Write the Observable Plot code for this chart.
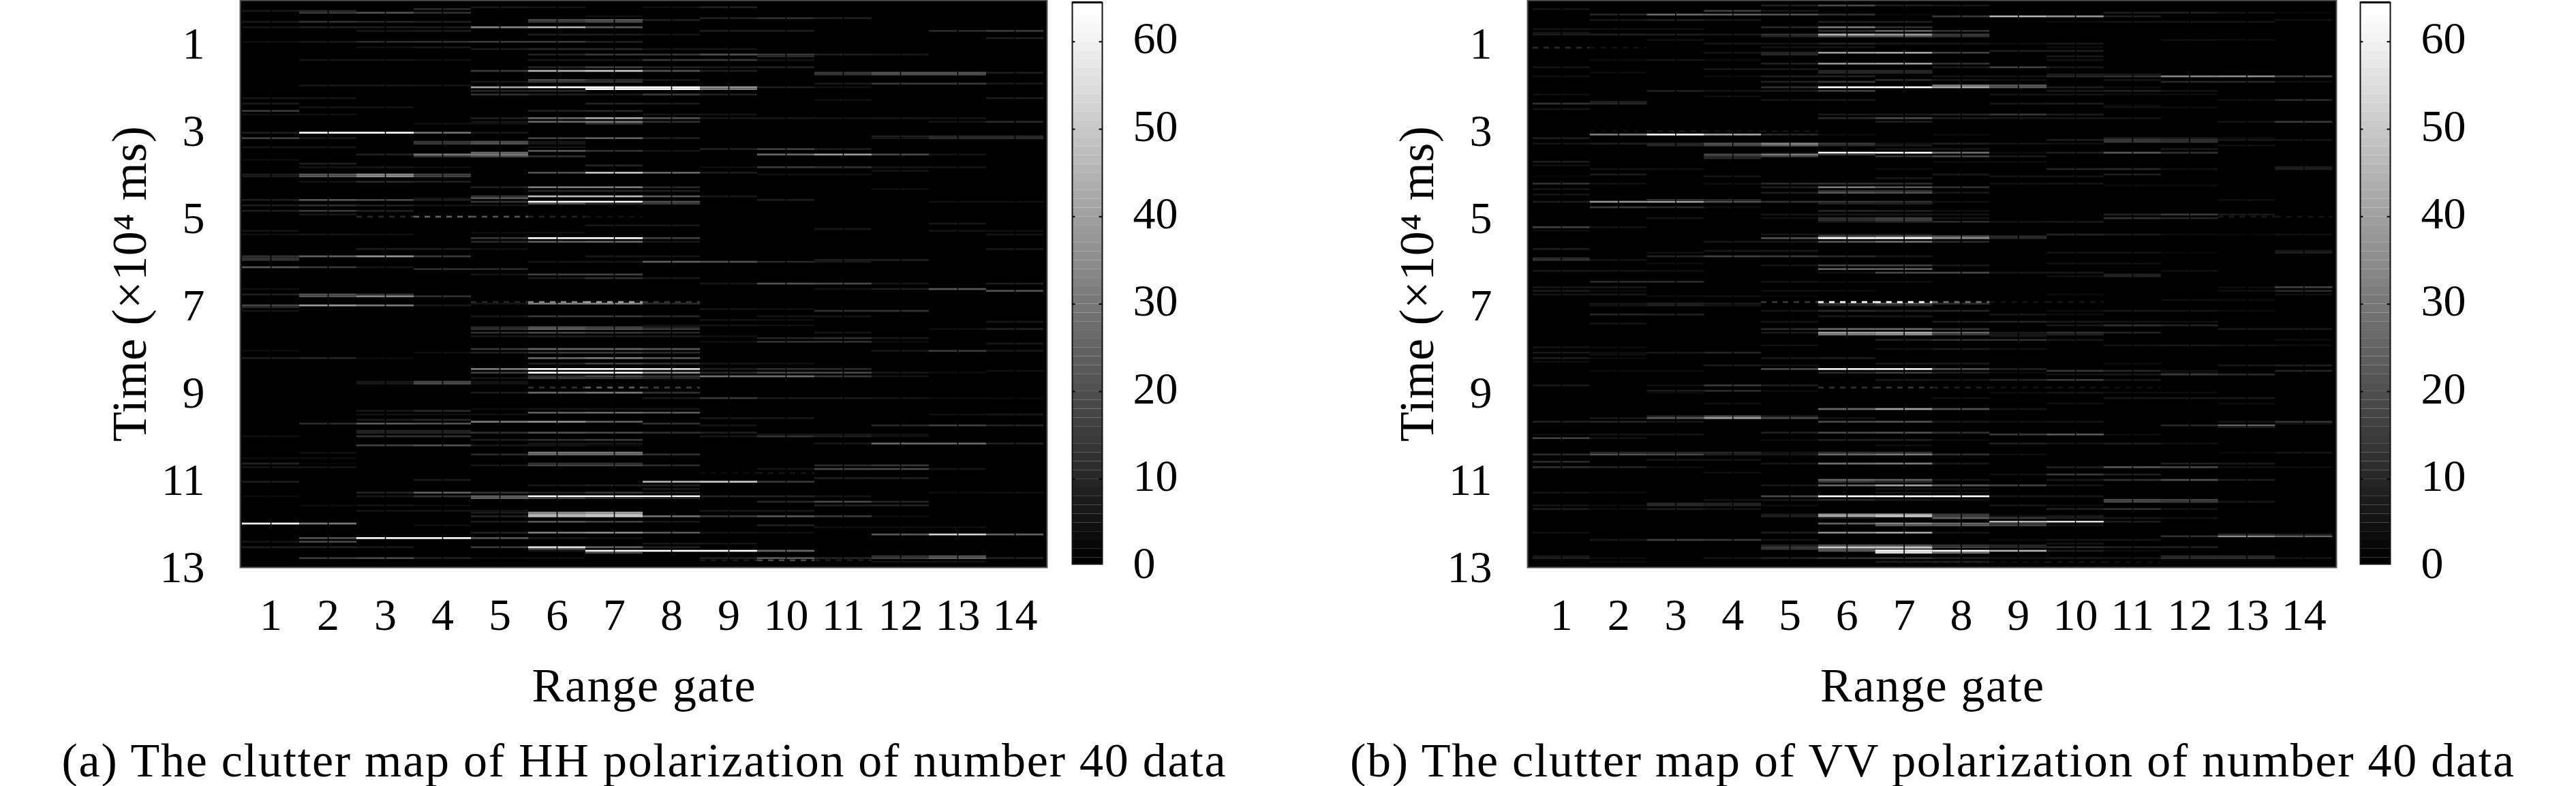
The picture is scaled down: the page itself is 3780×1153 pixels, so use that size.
<!DOCTYPE html>
<html><head><meta charset="utf-8">
<script src="https://cdn.jsdelivr.net/npm/d3@7"></script>
<script src="https://cdn.jsdelivr.net/npm/@observablehq/plot@0.6"></script>
<style>html,body{margin:0;padding:0;background:#fff;overflow:hidden}#page{position:relative;width:3780px;height:1153px}#page>*{position:absolute;top:0}</style>
</head><body><div id="page"></div>
<script>
const gates = d3.range(1, 15);
const timeTicks = [1, 3, 5, 7, 9, 11, 13];
const barTicks = [0, 10, 20, 30, 40, 50, 60];
const rowMs = 1 / 24; // one time row, in units of 10^4 ms
const captionA = "(a) The clutter map of HH polarization of number 40 data";
const captionB = "(b) The clutter map of VV polarization of number 40 data";
const axisX = "Range gate", axisT = "Time (×10⁴ ms)";
// each strip: [time row, first gate, amplitude in that gate, in the next gate, ...]
const hhStrips = [
[4,5,6,5],[4,8,4,8],[5,4,10],[6,1,6,10],[7,2,14,20,12],[9,7,4],[10,9,8,12,8],[12,1,6,12,10,8],[11,6,18,22,8],[12,6,14,18],[15,5,32,44,22],[15,1,5,8,7,7],[17,3,6,7],[17,9,7,7],[17,13,10,14],[19,6,7,7,5],[21,14,8],[23,1,4,6,10,12,14,14,8],[26,3,4,6],[27,5,7,10,10,5,5],[30,6,9,14,14,20,14,8,6],[31,10,10],[33,2,5,5,4],[33,6,6,6,14,14,5],[37,6,9,16,9,7,8],[39,5,14,44,50,20,8],[40,11,14,20,20,7],[41,11,12,18,18],[44,6,18,12,6],[45,5,6,14,12],[46,11,6,14,14,6],[47,2,6,6,5],[48,5,40,64,64,64,36,8,4],[49,7,64,64,30],[50,5,9,10],[52,5,12,8,6,14,8],[54,1,5,5],[55,11,4],[54,14,8],[57,1,6],[57,7,9,7],[59,2,5,5],[61,1,14],[61,6,8,9],[63,1,4,4],[63,8,5,5],[65,5,8,26,42,20,6,6,5,6,5],[67,5,5,26,30,12],[67,13,5,10],[68,4,4,4],[68,7,12],[73,1,7,64,64,28,6],[76,1,16,6],[76,6,16,24,8],[75,12,8,10,10],[76,12,6,12,12],[78,4,14,20,6],[79,4,14,20,6],[81,1,5,5],[81,6,5],[82,9,8,16,7],[83,6,22,12,5],[84,5,26],[85,3,8,30,30],[85,10,26,38,18,5],[86,4,14,20,12],[88,1,3],[90,2,8],[92,2,5,6,4],[91,7,9],[92,9,4,14,12,6,5],[94,12,5],[95,6,20,48,26,7],[96,1,7,22,34,16],[97,1,7,22,34,16],[96,10,4,4],[100,2,5,10,8],[103,5,8,30,30,10],[104,12,4],[105,6,10,10,8],[108,5,12,46,46,22,6],[109,4,4,22],[110,1,7,22,18,8],[110,10,7],[111,5,14,64,64,20],[111,13,4,4],[112,6,20,10,14],[113,1,7,12,8,5,5],[116,1,7,14,8],[118,2,6],[124,7,6,6],[123,13,6],[126,11,6],[127,1,5],[127,13,5,4],[128,5,3,4],[129,1,4,5,4],[129,14,5],[131,5,14,64,64,16],[133,5,10,24,26,6],[137,3,7,7,4],[137,14,6],[141,1,12,24,36,14],[141,7,6,5],[142,1,12],[143,1,12],[143,11,8,8],[144,6,5,5,24,20,10,6],[147,1,22,14,5],[148,4,12,10],[151,5,5,16,16],[153,6,7,12,6],[156,9,5,20,18,5],[156,14,8],[159,1,4],[159,11,4,8,22],[160,14,20],
[162,1,8,20,12],[163,2,20,32,12],[167,5,5,30,30,10],[168,1,18,38,30,6],[169,1,10],[171,1,5],[170,9,5,4],[171,11,12,12],[174,5,6,14,14,10],[174,10,5,5],[176,9,5,4],[177,14,6],[179,8,4,5,4],[180,5,10,20,16,8],[181,5,12,24,20,14],[181,13,4,8],[183,5,12,18,14,10],[183,11,5],[185,5,5,8,7,7,4],[186,10,9,12,6],[188,9,4,12,12,3],[189,14,6],[192,5,14,26,26,22],[193,1,3],[194,4,4],[193,12,6,14,6],[194,5,8,14,14,10],[197,1,7,9,3],[197,6,26,30,22],[200,6,8,16,12,5,4],[203,5,30,64,64,54,7,12,10],[204,14,4],[205,5,16,64,64,36,10,18,18,6,3],[207,6,12,18,12,28,28,14,5],[208,5,5,14,12,10],[210,3,6,18,5],[211,3,6,18,5],[216,5,7,26,30,12],[219,8,6,14,7,7,5,3,2],[225,5,3,5,5,5],[226,3,6,10],[227,6,24,26,22],[228,3,4,4,4],[228,13,4,6],[230,9,6,6],[231,3,7,10],[232,5,30,36,24],[233,2,10,22,20],[233,8,12],[234,9,5],[234,12,10,16,9],[237,3,9,9],[238,3,9,9],[238,5,12,20,18,12,8],[239,10,5,6,4],[240,3,12,12],[240,1,4],[240,9,6,12,8,4],[242,5,7,12,14],[244,6,5,5],[244,11,6,26,26,8],[245,3,16,20,6,5,3],[249,2,4],[249,6,30,30],[250,5,10,26,26,12],[252,1,3,3],[255,1,9,2],[255,6,12,12],[256,5,6,16,16,10],[257,1,5,5],[256,11,10,13],[258,10,5,18,18,5],[263,11,8,8],[264,4,7],[265,1,7],[265,8,44,50,14],[267,6,6,8,8],[269,8,6],[271,3,9,24,12,8,14,8],[271,13,3,4],[273,1,3],[273,3,6,12,24,64,64,64,9,9,5],[274,5,24,16,10,8],[276,10,10,18,9],[278,2,3,5,3],[278,11,8,9],[281,3,5,5,5],[281,9,6,6],[282,5,7,34,40],[283,6,42,46],[284,5,9,46,50,28,14,22,14,3],[287,5,7,22,16,6],[288,1,64,30],[289,4,4],[289,10,8],[290,11,4,4,4],[293,5,8,30,34,22,5,4],[294,12,22,52,24],[296,2,20,64,64,22,6,4],[298,1,5,18],[299,8,6,5],[301,1,7,8,6],[301,5,14,54,24,8],[302,6,20],[303,6,5,64,64,64,26],[304,7,20],[307,2,14,18,8,3,4],[307,9,8,22,9,16,24,8],[306,12,12,20],[309,12,5,5]
];
const vvStrips = [
[3,5,8,18,8,6],[5,1,5],[6,4,16,6],[8,2,9,26,24,20,12,2],[9,8,14,44,36,8],[7,11,8,8,5,2],[11,2,6,8,6],[11,14,4],[12,6,8,8],[12,10,3,5,5,5],[15,5,10,30,12],[16,1,5,4,4],[17,6,12,24,12],[19,1,7,8,7,6,12,44,38,14],[20,5,8,20,20,12],[18,1,5],[22,3,4],[22,12,4,3],[24,4,5,5,9,6,5,3,6],[26,5,5,5],[26,10,3],[28,9,7,7],[29,4,5,10,38,40,16],[30,5,10],[31,10,6],[33,2,3,5,3],[33,10,5],[35,5,8,36,38,12],[37,1,5],[37,8,6,16,6],[38,4,6,6],[40,2,3],[40,6,10,10],[39,6,10,10],[42,1,4],[42,4,3,8,8],[42,8,5,5,10,12,32,34,16],[41,10,7,6],[44,7,10,6,4],[44,11,5],[45,5,8,14],[45,12,10,10,4],[47,8,30,22],[48,5,12,64,64,42,22,8,3],[50,3,8,5],[50,5,7,16],[50,10,6,9,5],[52,1,4],[52,9,5,5,3,3],[53,4,4],[55,5,5,6],[55,13,4,10],[56,2,8],[57,1,12,10],[57,9,6,7],[58,11,3],[59,11,4,3],[60,1,5],[63,6,6,6,9,14,7],[65,6,10,18,7,6,6,5],[67,7,8],[67,13,5,14],[74,2,30,64,40,10,3],[74,8,3],[76,1,7],[76,11,8,7,3],[77,10,7,14,12],[78,11,14,12],[77,13,6,5],[79,1,5,7,9,20,32,14,4,7,5,4],[80,3,9,16,24,10],[80,7,6],[80,13,4],[82,7,5,5],[82,12,6],[84,5,3,64,64,28,3,8,22,12],[85,4,18,30,14],[86,4,12,16],[86,7,12,18,7],[87,4,10],[89,1,7],[89,8,3,3],[91,1,4],[93,2,4,4],[93,7,3],[93,10,9,10,4],[92,14,7],[93,14,8],[96,2,7],[96,8,6],[96,11,8],[97,1,2],[97,4,5],[97,9,5,5],[98,7,6],[101,1,12,4],[101,4,3,10,12,10],[101,9,4,5],[103,5,7,30,22,11],[102,11,3,3],[104,1,5],[105,6,12,12],[106,5,7,22,20,6],[107,1,5],[111,1,7,36,40,20,12,14,12,4],[110,3,12,10],[112,6,8,8],[110,13,4],[114,2,14,10,3],[116,6,9,8,4],[118,5,5,6,6,5],[118,11,8,14,6],[120,3,5],[120,5,4,12,16,5],[120,11,12,10],[122,6,6,9,10,5,6],[121,6,12,16],[125,1,16,5],[127,1,3],[129,5,5,6,6],[129,10,9,7,3,2,4],[130,6,20,24,20,10],[131,5,20,64,64,34,10],[133,4,6,6,22,28,10],[137,1,7],[138,4,6,6],[139,3,4],[139,10,5,5,2],[139,14,8],[138,14,6],[141,3,9,16,14,10,6],[143,1,12,5],[142,1,10],[145,3,3],[145,10,4,4],[146,5,5,16,16,6],[148,6,24,24],[149,1,6,5,4],[149,12,4],[150,6,4,18,18,6,6],[152,10,4,8],[151,11,8],[155,2,10,10],[155,5,5,3,4],[158,1,6,6],[158,13,3,16],[160,1,7,3],[160,5,4,3],[160,13,4,10],[162,1,5,6],[162,10,3],[162,14,4],[163,3,3,4,2],[165,12,4,3],[167,2,5,8,6],[167,6,14,20,10],[168,2,5,8,5],[168,6,8,10],[171,5,5,10,9,9],[171,10,3,6,5,3],[173,2,9,8],[173,9,6,3],[174,6,6,6],[177,5,5],[177,8,8,9,6,5,4],[178,2,5],[179,10,6,12,9],[181,5,10,26,26,12],[181,13,6,6],[183,5,7,40,44,26,7,12,9],[184,6,30,34,14,6,8],[185,9,5],[187,7,8,12,12,6],[187,14,3],[190,5,4],[190,11,5,6,5,3],[191,1,5,3],[192,7,4,7,4],[194,1,6,3,6,9],[195,2,4],[197,1,7,3],[197,5,6,7],[199,1,4],[200,7,6,6],[200,11,3],[201,4,7,4],[201,13,6,8],[203,5,18,60,60,20,8],[204,2,3,3],[204,10,14,10,4],[204,14,9],[205,6,10,16,8,3],[205,12,4],[206,10,5,6,14,10],[209,7,6,5,9,14,6],[212,1,6],[212,3,4,14,7],[215,3,7,10,3],[216,3,2],[216,9,3,5,3,3],[219,11,6,6,6],[219,8,4],[222,4,4],[222,10,4],[222,13,3],[225,6,26,40,20,5],[229,3,10,20,8],[230,2,6,22,38,18,5],[232,1,8,9,6],[232,6,18,20,6],[232,9,4,5],[232,13,5,12],[233,14,4],[234,12,10,24],[235,13,6],[238,5,8,18,20,12],[239,1,3,5,5],[239,9,14,22,3],[241,1,16,5],[242,5,3,8,8,3],[244,9,8,5,7,4],[245,7,4],[249,5,5,12,12],[249,13,2,5],[250,1,10,20,18,7,6,26,30,12,4],[249,2,10,10,10],[253,3,5,5],[254,1,10],[255,5,5,28,30,6],[255,12,8,6],[257,1,12,9,3],[257,10,8,22,18,4,3],[260,4,4],[261,9,4,14,8],[264,6,26,24,5],[264,10,6,12,20,8],[265,6,14,12],[267,5,6,26,40,22,16,5],[269,7,5,4],[271,1,5,3],[271,7,6,4],[273,5,18,64,64,64,6,6],[275,4,5,6,10,7,4],[275,11,18,16],[276,11,18,16,6],[276,12,14],[278,1,5,3,10,8,3],[278,9,6,3],[277,3,10,8],[280,1,7,3,7,5],[280,10,8,12,5],[284,5,8,42,50,16,5,7],[283,5,6,36,40,14],[285,6,5],[285,8,24,14,7,6,4],[287,9,46,56,7],[288,6,24,34,26,14,3],[289,7,22,22,16,4],[293,5,7,34,40,5],[293,1,4],[295,12,12,34,24],[294,13,10,8],[297,2,6,16,14,5],[297,9,3,5,5],[299,10,5],[301,5,14,50,50,16,10,10,8,8],[300,5,8,20,20,12,10],[302,5,12,24,24],[303,6,22,64,64,44,8,3],[304,7,56,30],[307,1,8,3],[307,4,5,8,12,12,8,5,6,5,12,12,5],[306,12,10,10],[306,1,6],[309,2,3],[309,7,8,7]
];
// rows where the amplitude alternates with blank samples
const hhDashed = [[119,3,10,24,20,8,4],[166,5,10,34,40,14],[213,6,12,24,16],[260,9,3,5],[308,9,6,18,7]];
const vvDashed = [[26,1,10,4],[72,2,3,6,4,5],[119,13,6,5],[166,5,14,64,64,28,5,5],[213,6,12,14,8,5,5,4],[309,7,6,8,4,5,4]];

const font = "'Liberation Serif'";
const expand = s => s.flatMap(([row, g, ...vals]) => vals.map((v, i) => ({row, gate: g + i, v})));
const shade = {type: "linear", domain: [0, 63], range: ["#000", "#fff"], clamp: true};

function fit(svg, label, size, length) {
  const t = [...svg.querySelectorAll("text")].find(t => t.textContent === label);
  if (!t) return;
  t.style.fontSize = size + "px";
  t.setAttribute("textLength", length);
  t.setAttribute("lengthAdjust", "spacing");
}

function panel(strips, dashed, caption, left, xDomain, ml, mr) {
  const p = Plot.plot({
    width: 1890, height: 1153, marginLeft: ml, marginRight: mr, marginTop: 0, marginBottom: 321,
    x: {domain: xDomain}, y: {domain: [0, 13], reverse: true}, color: shade,
    style: {background: "transparent", fontFamily: font, fontSize: "66px", color: "#000", overflow: "visible"},
    marks: [
      Plot.frame({fill: "#000"}),
      Plot.rect(expand(strips), {x1: d => d.gate - 0.5, x2: d => d.gate + 0.5, y1: d => (d.row - 0.5) * rowMs, y2: d => (d.row + 0.5) * rowMs, fill: "v"}),
      Plot.ruleX(gates, {stroke: "#000", strokeWidth: 1.6}),
      Plot.ruleY(expand(dashed), {y: d => d.row * rowMs, x1: d => d.gate - 0.5, x2: d => d.gate + 0.5, stroke: "v", strokeWidth: 2.7, strokeDasharray: "8,8"}),
      Plot.frame({stroke: "#555", strokeWidth: 2}),
      Plot.axisX(gates, {anchor: "bottom", tickSize: 0, tickPadding: 45, tickFormat: d => d, label: axisX, labelAnchor: "center", labelArrow: "none", labelOffset: 196}),
      Plot.axisY(timeTicks, {anchor: "left", tickSize: 0, tickPadding: 52, tickFormat: d => d, label: axisT, labelAnchor: "center", labelArrow: "none", labelOffset: 190}),
      Plot.text([caption], {frameAnchor: "bottom", dy: 306, lineAnchor: "bottom"})
    ]
  });
  p.style.left = left + "px";
  fit(p, caption, 70, 1708);
  fit(p, axisX, 70, 328);
  fit(p, axisT, 72, 463);
  return p;
}

function colorbar(left) {
  const levels = d3.range(0, 64);
  const p = Plot.plot({
    width: 220, height: 1153, marginLeft: 33, marginRight: 143, marginTop: 3, marginBottom: 326,
    x: {domain: [0, 1], axis: null}, y: {domain: [0.27, 64.5]}, color: shade,
    style: {background: "transparent", fontFamily: font, fontSize: "66px", color: "#000", overflow: "visible"},
    marks: [
      Plot.rect(levels, {x1: 0, x2: 1, y1: d => Math.max(d, 0.27), y2: d => Math.min(d + 1, 64.5), fill: d => d}),
      Plot.ruleY(barTicks.slice(1), {y: d => d, x1: 0, x2: 0.1, stroke: "#000", strokeWidth: 2}),
      Plot.ruleY(barTicks.slice(1), {y: d => d, x1: 0.9, x2: 1, stroke: "#000", strokeWidth: 2}),
      Plot.frame({stroke: "#111", strokeWidth: 2}),
      Plot.ruleY([64.5], {stroke: "#000", strokeWidth: 3}),
      Plot.axisY(barTicks, {anchor: "right", tickSize: 0, tickPadding: 45, dy: -4, tickFormat: d => d, label: null})
    ]
  });
  p.style.left = left + "px";
  return p;
}

const page = document.getElementById("page");
page.append(
  panel(hhStrips, hhDashed, captionA, 0, [0.464, 14.56], 352, 354),
  colorbar(1540),
  panel(vvStrips, vvDashed, captionB, 1890, [0.405, 14.57], 351, 352),
  colorbar(3430)
);
</script></body></html>
